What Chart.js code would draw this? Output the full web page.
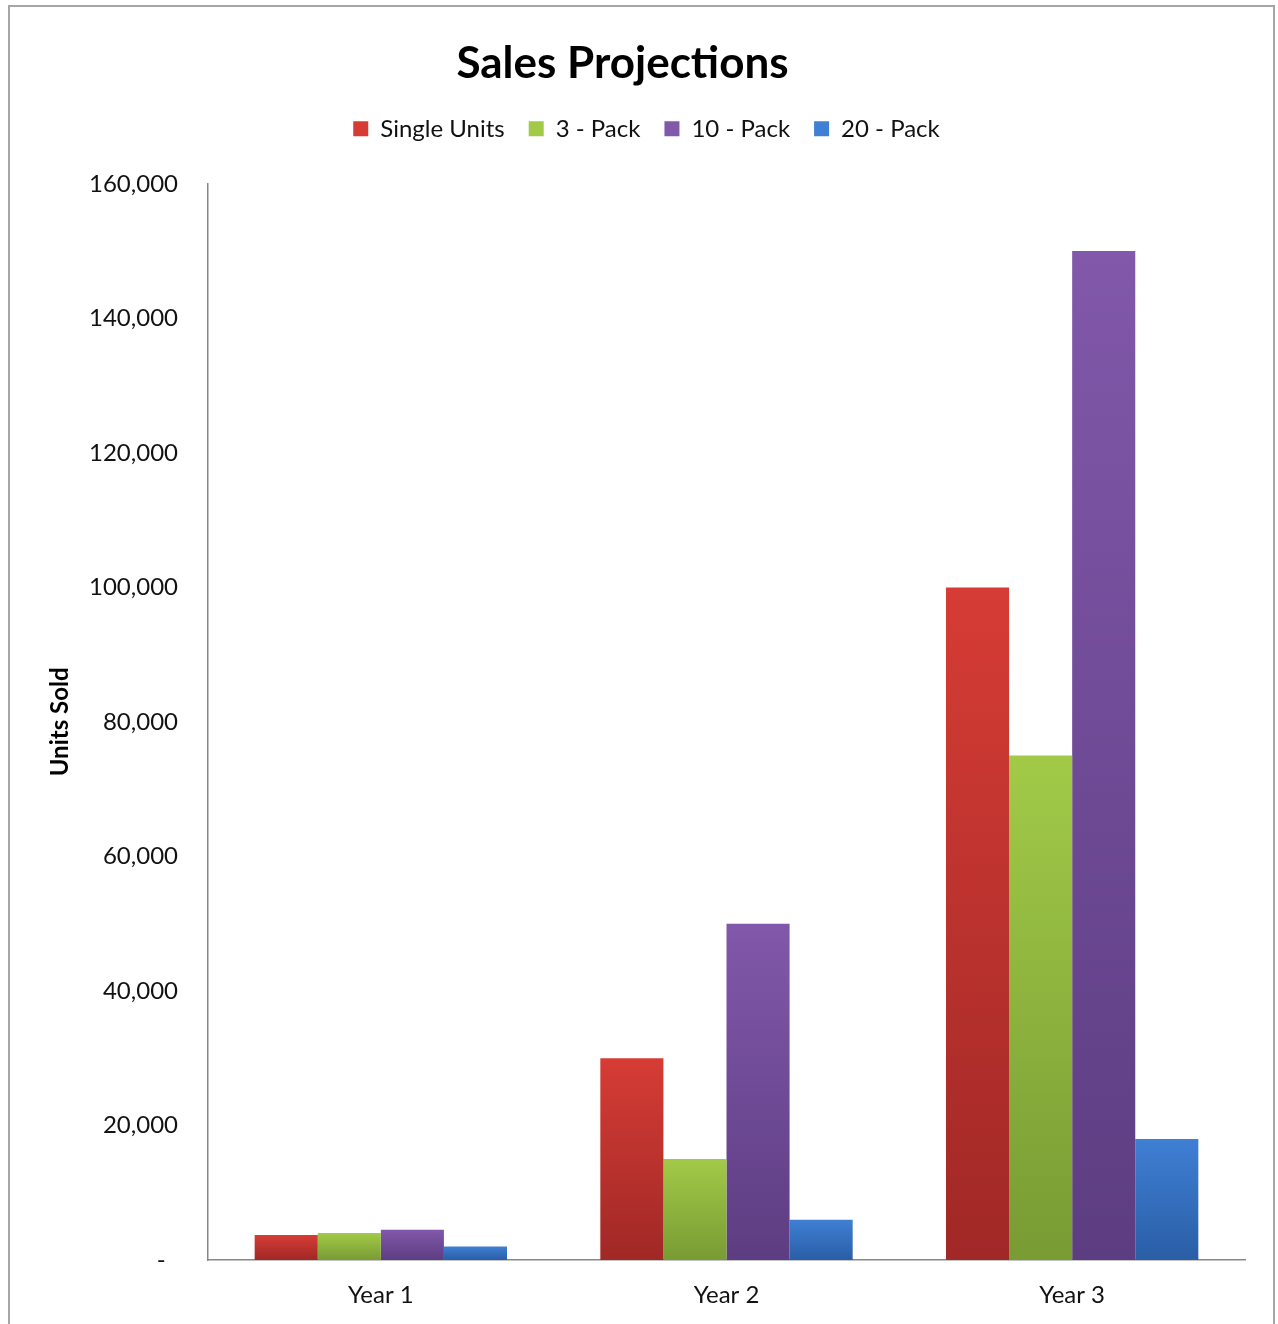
<!DOCTYPE html>
<html>
<head>
<meta charset="utf-8">
<script src="https://cdn.jsdelivr.net/npm/chart.js@4.4.0/dist/chart.umd.min.js"></script>
<style>
  html, body { margin: 0; padding: 0; background: #fff; }
  canvas { display: block; }
</style>
</head>
<body>
<canvas id="myChart" width="1278" height="1324"></canvas>
<script>
// data
const years = ['Year 1', 'Year 2', 'Year 3'];
const singleUnits = [3700, 30000, 100000];
const threePack = [4000, 15000, 75000];
const tenPack = [4500, 50000, 150000];
const twentyPack = [2000, 6000, 18000];
const yTicks = [0, 20000, 40000, 60000, 80000, 100000, 120000, 140000, 160000];

const FONT = 'Lato, "Open Sans", sans-serif';

// top / bottom colour of each bar gradient
function barFill(top, bottom) {
    return function (c) {
        const chart = c.chart;
        if (!chart.chartArea || c.raw == null) return top;
        const y = chart.scales.y.getPixelForValue(c.raw);
        const base = chart.scales.y.getPixelForValue(0);
        const g = chart.ctx.createLinearGradient(0, y, 0, base);
        g.addColorStop(0, top);
        g.addColorStop(1, bottom);
        return g;
    };
}

// grey frame round the whole chart
const frame = {
    id: 'frame',
    beforeDraw(chart) {
        const ctx = chart.ctx;
        ctx.save();
        ctx.fillStyle = '#fff';
        ctx.fillRect(0, 0, chart.width, chart.height);
        ctx.strokeStyle = '#a6a6a6';
        ctx.lineWidth = 2;
        ctx.strokeRect(9, 6, 1265, 1340);
        ctx.restore();
    }
};

// fixed legend box height so the plot starts where the original does,
// and nudge the legend right like in the original
const legendBox = {
    id: 'legendBox',
    beforeLayout(chart) {
        const lg = chart.legend;
        if (!lg || lg._fixed) return;
        const fit = lg.fit;
        lg.fit = function () { fit.call(this); this.height = 91; };
        lg._fixed = true;
    },
    afterLayout(chart) {
        const lg = chart.legend;
        if (!lg) return;
        lg.left += 24;
        lg.right += 24;
    }
};

const ctx = document.getElementById('myChart').getContext('2d');

const myChart = new Chart(ctx, {
    type: 'bar',
    data: {
        labels: years,
        datasets: [
            { label: 'Single Units', data: singleUnits, backgroundColor: barFill('#d63c35', '#a02826') },
            { label: '3 - Pack', data: threePack, backgroundColor: barFill('#a2ca48', '#789b33') },
            { label: '10 - Pack', data: tenPack, backgroundColor: barFill('#8158aa', '#5d3d82') },
            { label: '20 - Pack', data: twentyPack, backgroundColor: barFill('#3f7fd4', '#2a5ea6') }
        ]
    },
    options: {
        responsive: false,
        animation: false,
        devicePixelRatio: 1,
        layout: { padding: { left: 0, right: 33, top: 0, bottom: 0 } },
        datasets: {
            bar: { categoryPercentage: 0.73, barPercentage: 1 }
        },
        plugins: {
            title: {
                display: true,
                text: 'Sales Projections',
                color: '#000',
                font: { family: FONT, size: 44, weight: 'bold' },
                padding: { top: 37, bottom: 3 }
            },
            legend: {
                position: 'top',
                labels: {
                    color: '#111',
                    font: { family: FONT, size: 24 },
                    boxWidth: 15,
                    boxHeight: 15,
                    padding: 24
                }
            },
            tooltip: { enabled: false }
        },
        scales: {
            x: {
                grid: { display: false, drawTicks: false },
                border: { color: '#888', width: 1.5 },
                ticks: { color: '#111', font: { family: FONT, size: 24 }, padding: 21 },
                afterFit(s) { s.height = 64; }
            },
            y: {
                min: 0,
                max: 160000,
                afterBuildTicks(s) { s.ticks = yTicks.map(v => ({ value: v })); },
                grid: { display: false, drawTicks: false },
                border: { color: '#888', width: 1.5 },
                ticks: {
                    color: '#111',
                    font: { family: FONT, size: 24 },
                    padding: 30,
                    callback: v => v === 0 ? '-  ' : v.toLocaleString('en-US')
                },
                title: {
                    display: true,
                    text: 'Units Sold',
                    color: '#000',
                    font: { family: FONT, size: 24, weight: 'bold' },
                    padding: { top: 46, bottom: 0 }
                },
                afterFit(s) { s.width = 208; }
            }
        }
    },
    plugins: [frame, legendBox]
});
</script>
</body>
</html>
